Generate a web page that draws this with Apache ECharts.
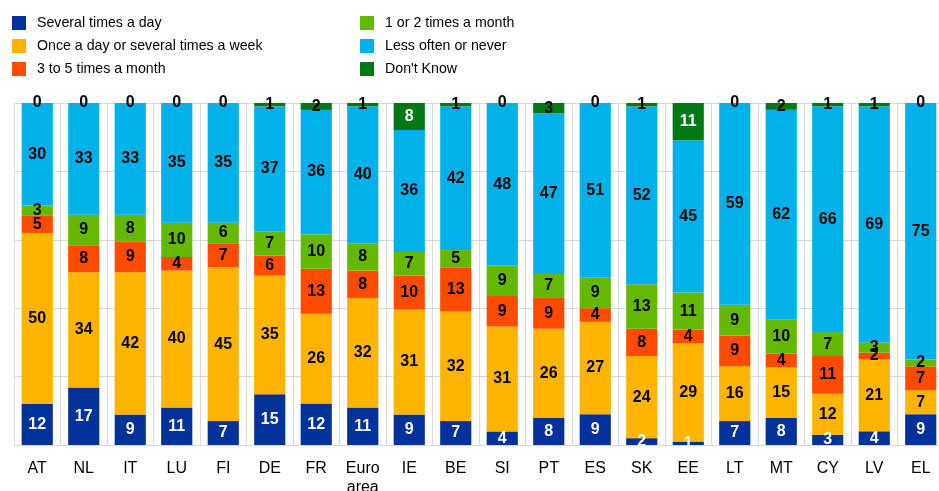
<!DOCTYPE html>
<html>
<head>
<meta charset="utf-8">
<script src="https://cdn.jsdelivr.net/npm/echarts@6/dist/echarts.min.js"></script>
<style>
  html, body { margin: 0; padding: 0; background: #fff; }
  #chart { width: 939px; height: 491px; }
</style>
</head>
<body>
<div id="chart"></div>
<script>
  var countries = ['AT', 'NL', 'IT', 'LU', 'FI', 'DE', 'FR', 'Euro\narea', 'IE', 'BE',
    'SI', 'PT', 'ES', 'SK', 'EE', 'LT', 'MT', 'CY', 'LV', 'EL']

  var severalDay = [12, 17, 9, 11, 7, 15, 12, 11, 9, 7, 4, 8, 9, 2, 1, 7, 8, 3, 4, 9]
  var onceDay = [50, 34, 42, 40, 45, 35, 26, 32, 31, 32, 31, 26, 27, 24, 29, 16, 15, 12, 21, 7]
  var threeToFive = [5, 8, 9, 4, 7, 6, 13, 8, 10, 13, 9, 9, 4, 8, 4, 9, 4, 11, 2, 7]
  var oneOrTwo = [3, 9, 8, 10, 6, 7, 10, 8, 7, 5, 9, 7, 9, 13, 11, 9, 10, 7, 3, 2]
  var lessOften = [30, 33, 33, 35, 35, 37, 36, 40, 36, 42, 48, 47, 51, 52, 45, 59, 62, 66, 69, 75]
  var dontKnow = [0, 0, 0, 0, 0, 1, 2, 1, 8, 1, 0, 3, 0, 1, 11, 0, 2, 1, 1, 0]

  var allSeries = [severalDay, onceDay, threeToFive, oneOrTwo, lessOften, dontKnow]
  // rounded shares don't always add to 100, scale each bar so it fills the column
  var totals = countries.map(function (c, i) {
    return allSeries.reduce(function (s, arr) { return s + arr[i] }, 0)
  })

  var font = 'Liberation Sans, Arial, sans-serif'
  var chart = echarts.init(document.getElementById('chart'))

  function makeSeries(name, data, color, labelColor) {
    return {
      name: name,
      type: 'bar',
      stack: 'total',
      barWidth: '67%',
      clip: false,
      data: data.map(function (v, i) {
        var item = { value: v * 100 / totals[i], raw: v }
        if (name === "Don't Know" && v >= 5) item.label = { color: '#fff' }
        return item
      }),
      itemStyle: { color: color },
      label: {
        show: true,
        position: 'inside',
        color: labelColor,
        fontFamily: font,
        fontSize: 16,
        fontWeight: 'bold',
        formatter: function (p) { return String(p.data.raw) }
      },
      labelLayout: { hideOverlap: false }
    }
  }

  var legendText = { fontFamily: font, fontSize: 14.2, color: '#000', lineHeight: 14, padding: [0, 0, 0, 6] }

  chart.setOption({
    animation: false,
    legend: [
      {
        left: 7, top: 11, orient: 'vertical', itemWidth: 14, itemHeight: 14, itemGap: 9,
        icon: 'rect', textStyle: legendText,
        data: ['Several times a day', 'Once a day or several times a week', '3 to 5 times a month']
      },
      {
        left: 355, top: 11, orient: 'vertical', itemWidth: 14, itemHeight: 14, itemGap: 9,
        icon: 'rect', textStyle: legendText,
        data: ['1 or 2 times a month', 'Less often or never', "Don't Know"]
      }
    ],
    grid: { left: 14, top: 103, width: 930, bottom: 46, outerBoundsMode: 'none' },
    xAxis: {
      type: 'category',
      data: countries,
      axisTick: { show: false },
      axisLine: { lineStyle: { color: '#d9d9d9' } },
      splitLine: { show: true, lineStyle: { color: '#d9d9d9' } },
      axisLabel: {
        color: '#000', fontSize: 16, margin: 14, lineHeight: 19,
        fontFamily: font
      }
    },
    yAxis: {
      type: 'value',
      min: 0,
      max: 100,
      interval: 20,
      axisLabel: { show: false },
      axisLine: { show: true, lineStyle: { color: '#d9d9d9' } },
      splitLine: { lineStyle: { color: '#d9d9d9' } }
    },
    series: [
      makeSeries('Several times a day', severalDay, '#003299', '#fff'),
      makeSeries('Once a day or several times a week', onceDay, '#FFB400', '#000'),
      makeSeries('3 to 5 times a month', threeToFive, '#FF4B00', '#000'),
      makeSeries('1 or 2 times a month', oneOrTwo, '#65B800', '#000'),
      makeSeries('Less often or never', lessOften, '#00B1EA', '#000'),
      makeSeries("Don't Know", dontKnow, '#007816', '#000')
    ]
  })
</script>
</body>
</html>
